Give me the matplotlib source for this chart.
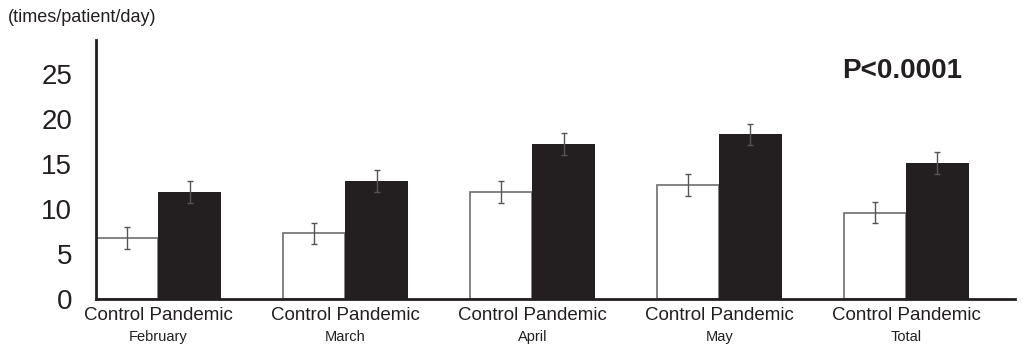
import matplotlib.pyplot as plt
import numpy as np

plt.rcParams['font.family'] = ['Liberation Sans', 'DejaVu Sans']

months = ["February", "March", "April", "May", "Total"]
control = [6.8, 7.3, 11.9, 12.7, 9.6]
pandemic = [11.9, 13.1, 17.2, 18.3, 15.1]
control_err = [1.2, 1.2, 1.2, 1.2, 1.2]
pandemic_err = [1.2, 1.2, 1.2, 1.2, 1.2]
yticks = [0, 5, 10, 15, 20, 25]

dark = '#231f20'
x = np.arange(len(months))
w = 0.334

fig = plt.figure(figsize=(10.23, 3.45), dpi=100)
ax = fig.add_axes([0.0938, 0.1333, 0.898, 0.751])

ax.bar(x - w / 2, control, w, color='white', edgecolor='#6d6d6d', linewidth=1.2)
ax.bar(x + w / 2, pandemic, w, color=dark, edgecolor=dark, linewidth=0)
ax.errorbar(x - w / 2, control, yerr=control_err, fmt='none', ecolor='#555555',
            elinewidth=1, capsize=2, capthick=1)
ax.errorbar(x + w / 2, pandemic, yerr=pandemic_err, fmt='none', ecolor='#555555',
            elinewidth=1, capsize=2, capthick=1)

ax.set_xlim(-w, 4.58)
ax.set_ylim(0, 28.8)
ax.set_yticks(yticks)
ax.tick_params(axis='y', length=0, pad=17, labelsize=20, labelcolor=dark)
ax.set_xticks(x)
ax.set_xticklabels(['Control Pandemic'] * len(months), fontsize=13.5, color=dark)
ax.tick_params(axis='x', length=0, pad=6)

for i, m in enumerate(months):
    ax.text(x[i], -0.147, m, transform=ax.get_xaxis_transform(), ha='center',
            va='center', fontsize=10.5, color=dark)

for s in ['top', 'right']:
    ax.spines[s].set_visible(False)
for s in ['left', 'bottom']:
    ax.spines[s].set_color(dark)
    ax.spines[s].set_linewidth(2)

fig.text(0.008, 0.95, '(times/patient/day)', fontsize=13, color=dark, va='center')
ax.text(0.878, 0.88, 'P<0.0001', transform=ax.transAxes, fontsize=20,
        fontweight='bold', color=dark, ha='center', va='center')

fig.savefig('out.png', dpi=100)
